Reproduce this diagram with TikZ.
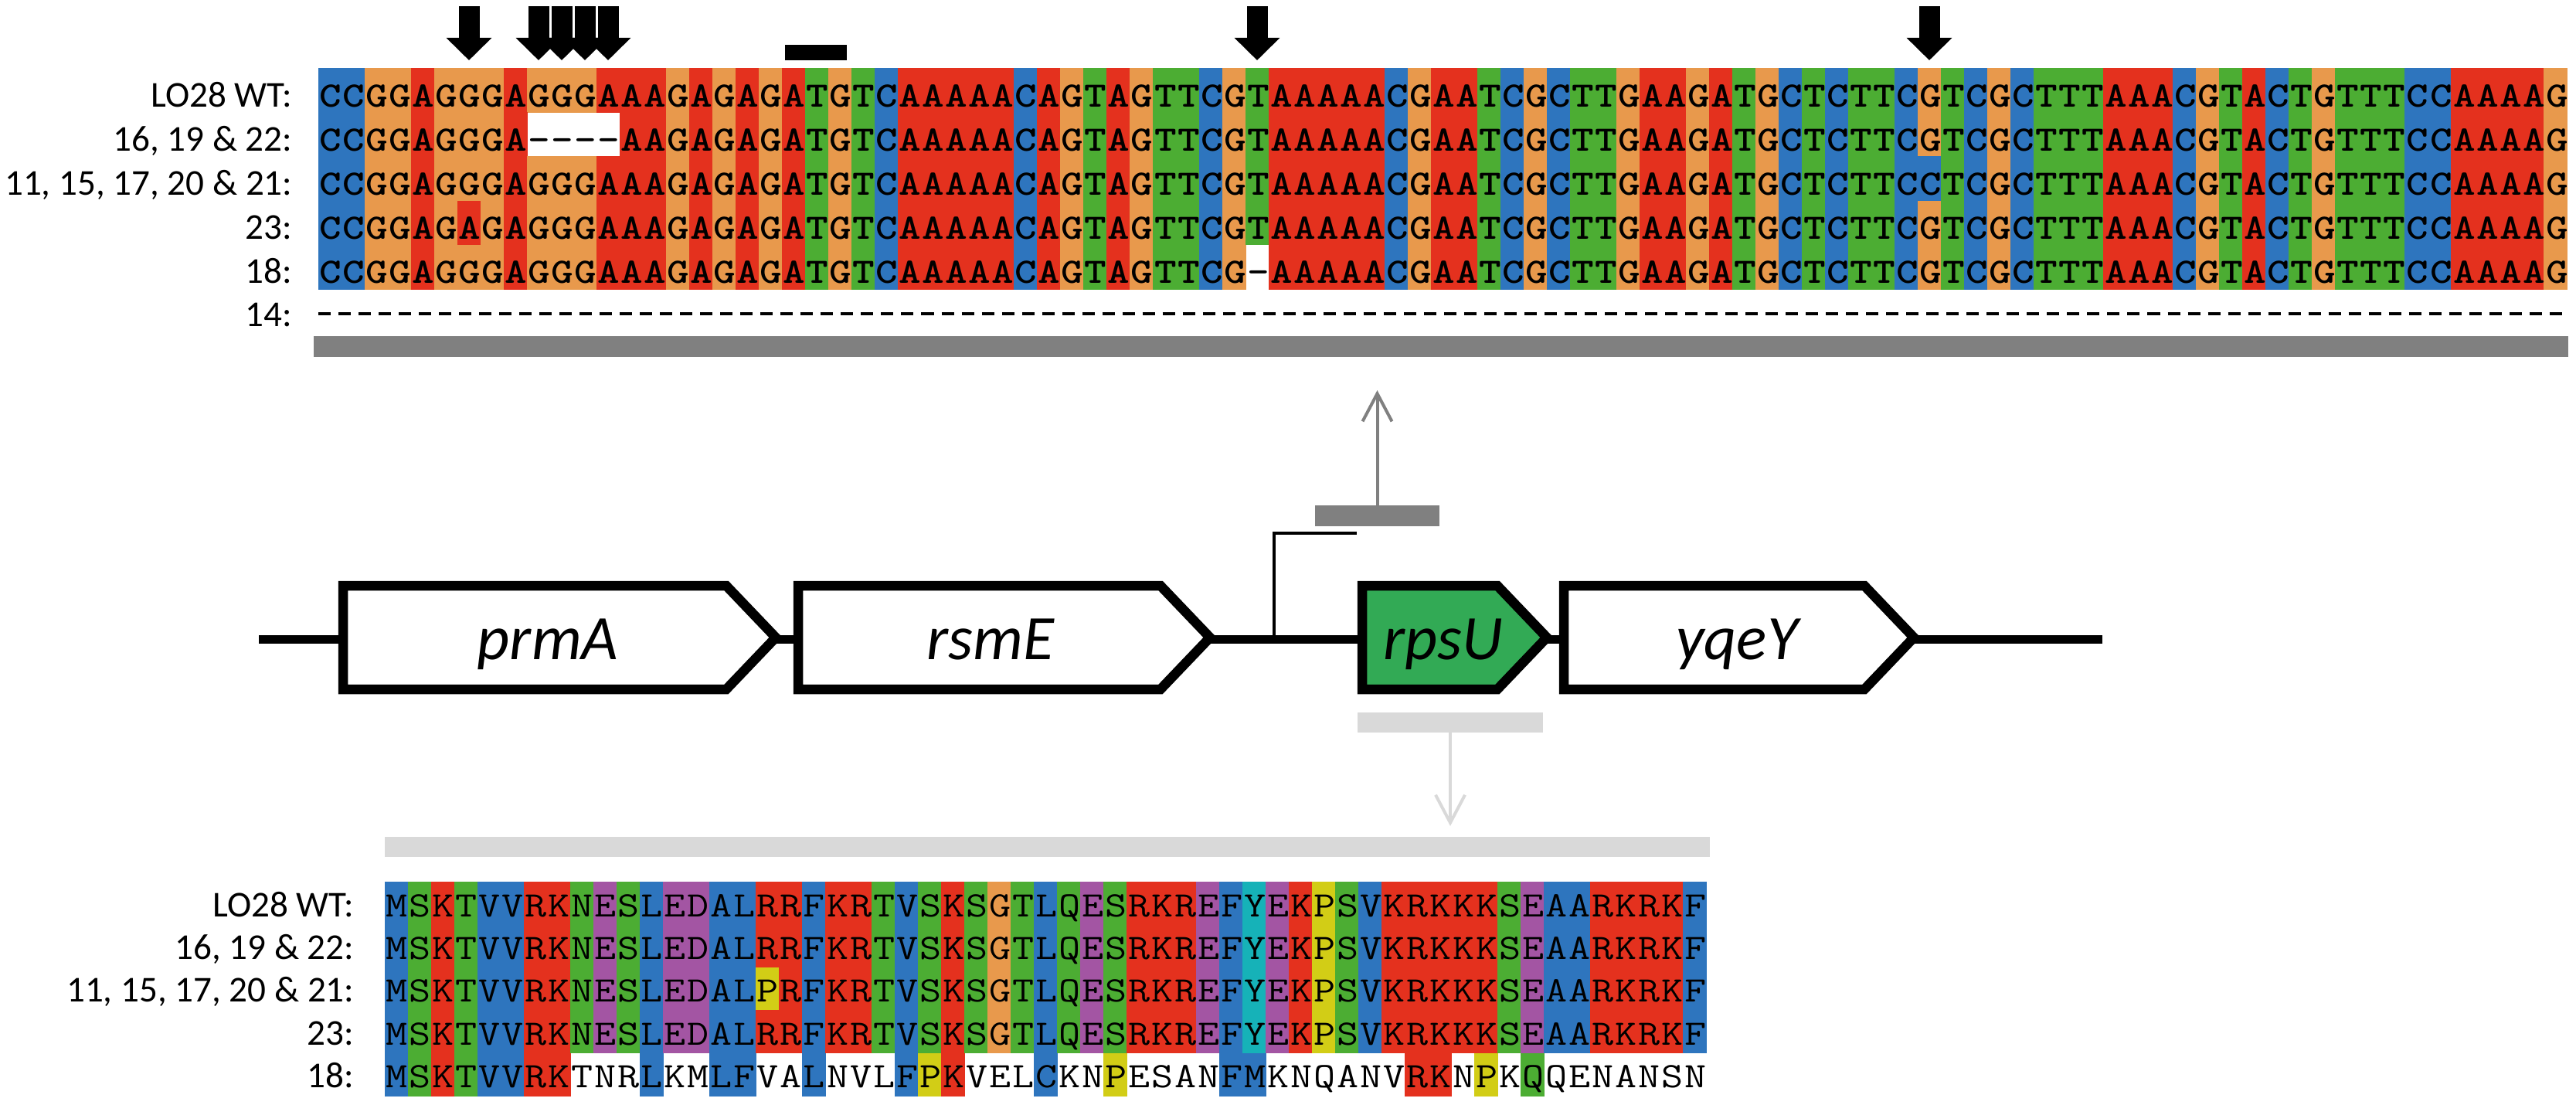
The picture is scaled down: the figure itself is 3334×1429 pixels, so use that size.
\documentclass[tikz,border=0pt]{standalone}
\usepackage{fontspec}
\usetikzlibrary{arrows.meta}
\setmainfont{Carlito}

% nucleotide colours
\definecolor{ntA}{RGB}{228,49,30}
\definecolor{ntC}{RGB}{46,117,190}
\definecolor{ntG}{RGB}{232,153,76}
\definecolor{ntT}{RGB}{76,173,51}
% amino acid colours
\colorlet{aaA}{ntC}\colorlet{aaC}{ntC}\colorlet{aaF}{ntC}\colorlet{aaI}{ntC}
\colorlet{aaL}{ntC}\colorlet{aaM}{ntC}\colorlet{aaV}{ntC}\colorlet{aaW}{ntC}
\colorlet{aaS}{ntT}\colorlet{aaT}{ntT}\colorlet{aaN}{ntT}\colorlet{aaQ}{ntT}
\colorlet{aaK}{ntA}\colorlet{aaR}{ntA}
\definecolor{aaD}{RGB}{163,85,163}\colorlet{aaE}{aaD}
\colorlet{aaG}{ntG}
\definecolor{aaP}{RGB}{210,205,22}
\definecolor{aaY}{RGB}{22,178,184}\colorlet{aaH}{aaY}
\definecolor{cdsgreen}{RGB}{50,170,85}
\definecolor{bardark}{RGB}{128,128,128}
\definecolor{barlight}{RGB}{217,217,217}

% one alignment row: name, x0, top, height, baseline, colour prefix, letters
% (a gap '-' or a lower case letter gets no colour)
\makeatletter
\newcount\seqcol
\newcommand\seqweight{}
\newcommand\seqrow[7]{%
  \def\sq@x{#2}\def\sq@y{#3}\def\sq@h{#4}\def\sq@p{#6}\def\sq@t{}\seqcol=0
  \sq@next#7\relax
  \node[seqtext] (#1) at (#2,#5) {\scalebox{1}[0.85]{\sq@t}};}
\def\sq@next#1{\ifx#1\relax\else\sq@cell#1\advance\seqcol by 1 \expandafter\sq@next\fi}
\def\sq@cell#1{%
  \expandafter\def\expandafter\sq@t\expandafter{\sq@t\hbox to 0.3cm{\hss\uppercase{#1}\hss}}%
  \ifnum`#1<`A \else\ifnum`#1>`Z \else
  \edef\sq@c{\sq@p#1}%
  \fill[fill=\sq@c] ({\sq@x+30*\the\seqcol},\sq@y) rectangle +(30.6,{\sq@h+0.6});\fi\fi}
\makeatother

% gene outline: left, shoulder, fill
\newcommand\genearrow[3]{\draw[genebox, fill=#3] (#1,758) -- (#2,758) -- ({#2+64},825) -- (#2,892) -- (#1,892) -- cycle;}

\begin{document}
\begin{tikzpicture}[x=0.01cm, y=-0.01cm,
    seqtext/.style={anchor=base west, inner sep=0pt, font=\ttfamily\fontsize{15.5pt}{17pt}\selectfont\seqweight},
    rowlabel/.style={anchor=base east, inner sep=0pt, font=\fontsize{13.4pt}{15pt}\selectfont},
    genebox/.style={line width=0.125cm, line join=miter},
    genename/.style={anchor=base, inner sep=0pt, font=\fontsize{23.3pt}{26pt}\selectfont\itshape},
    bar/.style={inner sep=0pt, outer sep=0pt, minimum height=0.27cm},
    mutarrow/.style={line width=0.27cm, -{Triangle[length=0.29cm, width=0.57cm]}},
    hint/.style={line width=0.04cm, line cap=round, -{Straight Barb[length=0.36cm, width=0.38cm]}}]
    \useasboundingbox (0,0) rectangle (3334,1429);

    % promoter region alignment
    \renewcommand\seqweight{\bfseries}
    \seqrow{dwt}{412}{88}{57.2}{138}{nt}{CCGGAGGGAGGGAAAGAGAGATGTCAAAAACAGTAGTTCGTAAAAACGAATCGCTTGAAGATGCTCTTCGTCGCTTTAAACGTACTGTTTCCAAAAG}
    \seqrow{dins}{412}{145.2}{57.2}{195.2}{nt}{CCGGAGGGA----AAGAGAGATGTCAAAAACAGTAGTTCGTAAAAACGAATCGCTTGAAGATGCTCTTCGTCGCTTTAAACGTACTGTTTCCAAAAG}
    \seqrow{dpm}{412}{202.4}{57.2}{252.4}{nt}{CCGGAGGGAGGGAAAGAGAGATGTCAAAAACAGTAGTTCGTAAAAACGAATCGCTTGAAGATGCTCTTCCTCGCTTTAAACGTACTGTTTCCAAAAG}
    \seqrow{dga}{412}{259.6}{57.2}{309.6}{nt}{CCGGAGAGAGGGAAAGAGAGATGTCAAAAACAGTAGTTCGTAAAAACGAATCGCTTGAAGATGCTCTTCGTCGCTTTAAACGTACTGTTTCCAAAAG}
    \seqrow{ddel}{412}{316.8}{57.2}{366.8}{nt}{CCGGAGGGAGGGAAAGAGAGATGTCAAAAACAGTAGTTCG-AAAAACGAATCGCTTGAAGATGCTCTTCGTCGCTTTAAACGTACTGTTTCCAAAAG}
    \coordinate (gapL) at (412,406);
    \coordinate (gapR) at (3322,406);
    \draw[line width=0.035cm, dash pattern=on 0.16cm off 0.1cm] (gapL) -- (gapR);

    \node[rowlabel] (ldwt) at (379,138) {LO28 WT:};
    \node[rowlabel] (ldins) at (379,195.2) {16, 19 \& 22:};
    \node[rowlabel] (ldpm) at (379,252.4) {11, 15, 17, 20 \& 21:};
    \node[rowlabel] (ldga) at (379,309.6) {23:};
    \node[rowlabel] (lddel) at (379,366.8) {18:};
    \node[rowlabel] (ldgap) at (379,422) {14:};

    % mutated positions and start codon
    \foreach \c in {6,9,10,11,12,40,69}
        \draw[mutarrow] ({427+30*\c},8) -- ({427+30*\c},78);
    \fill (1016,58) rectangle (1096,78);

    \node[bar, fill=bardark, minimum width=29.16cm] (dnabar) at (1865,448.5) {};

    % genetic locus
    \coordinate (locL) at (335,827.5);
    \coordinate (locR) at (2721,827.5);
    \draw[line width=0.105cm] (locL) -- (locR);
    \genearrow{444}{940}{white}
    \genearrow{1033}{1502}{white}
    \genearrow{1763}{1938}{cdsgreen}
    \genearrow{2024}{2413}{white}
    \node[genename] (prmA) at (709,853) {prmA};
    \node[genename] (rsmE) at (1282,853) {rsmE};
    \node[genename] (rpsU) at (1868,853) {rpsU};
    \node[genename] (yqeY) at (2248,853) {yqeY};

    \coordinate (tss) at (1649,827.5);
    \coordinate (tssend) at (1756,690);
    \draw[line width=0.045cm] (tss) |- (tssend);

    \node[bar, fill=bardark, minimum width=1.61cm] (promreg) at (1782.5,667.5) {};
    \node[bar, fill=barlight, minimum width=2.40cm, minimum height=0.26cm] (cdsreg) at (1877,935) {};
    \draw[hint, bardark, shorten >=0.43cm] (promreg.north) -- (promreg.north |- dnabar.south);
    \node[bar, fill=barlight, minimum width=17.14cm, minimum height=0.26cm] (protbar) at (1355,1096) {};
    \draw[hint, barlight, shorten >=0.14cm] (cdsreg.south) -- (cdsreg.south |- protbar.north);

    % RpsU protein alignment
    \renewcommand\seqweight{}
    \seqrow{pwt}{498}{1141}{55.4}{1186}{aa}{MSKTVVRKNESLEDALRRFKRTVSKSGTLQESRKREFYEKPSVKRKKKSEAARKRKF}
    \seqrow{pins}{498}{1196.4}{55.4}{1241.4}{aa}{MSKTVVRKNESLEDALRRFKRTVSKSGTLQESRKREFYEKPSVKRKKKSEAARKRKF}
    \seqrow{ppm}{498}{1251.8}{55.4}{1296.8}{aa}{MSKTVVRKNESLEDALPRFKRTVSKSGTLQESRKREFYEKPSVKRKKKSEAARKRKF}
    \seqrow{pga}{498}{1307.2}{55.4}{1352.2}{aa}{MSKTVVRKNESLEDALRRFKRTVSKSGTLQESRKREFYEKPSVKRKKKSEAARKRKF}
    \seqrow{pdel}{498}{1362.6}{55.4}{1407.6}{aa}{MSKTVVRKtnrLkmLFvaLnvlFPKvelCknPesanFMknqanvRKnPkQqenansn}

    \node[rowlabel] (lpwt) at (459,1186) {LO28 WT:};
    \node[rowlabel] (lpins) at (459,1241.4) {16, 19 \& 22:};
    \node[rowlabel] (lppm) at (459,1296.8) {11, 15, 17, 20 \& 21:};
    \node[rowlabel] (lpga) at (459,1352.2) {23:};
    \node[rowlabel] (lpdel) at (459,1407.6) {18:};
\end{tikzpicture}
\end{document}
